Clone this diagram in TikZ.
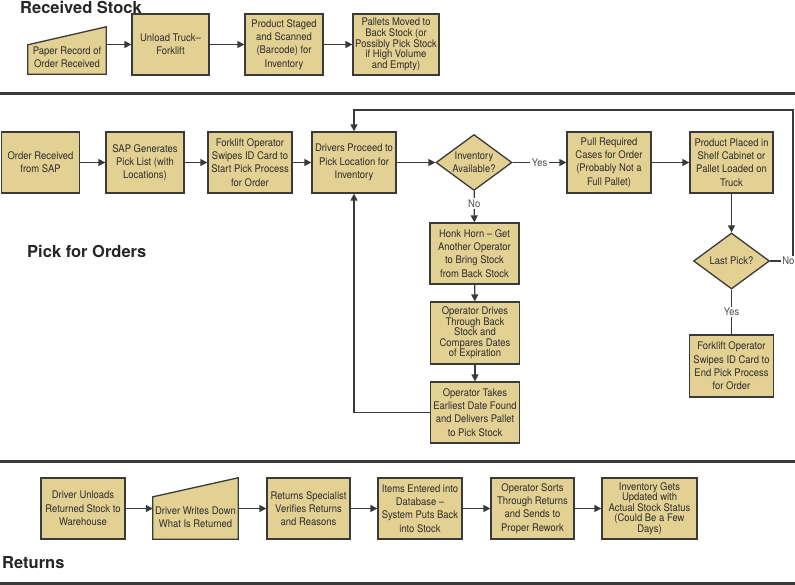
\documentclass[tikz,border=0pt]{standalone}
\usepackage{fontspec}
\setmainfont{TeX Gyre Heros}[FakeStretch=0.9]
\newfontfamily\headfont{TeX Gyre Heros}
\usepackage{tikz}
\usetikzlibrary{shapes, arrows, calc, positioning, arrows.meta, backgrounds}
\usetikzlibrary{shapes.geometric}
\definecolor{xTanBox}{RGB}{227,208,147}
\definecolor{xDarkLine}{RGB}{58,58,58}
\definecolor{xText}{RGB}{45,45,45}

\tikzset{
    boxtext/.style={font=\fontsize{10.5}{13.3}\selectfont, text=xText, align=center, inner sep=0pt},
    procbox/.style={boxtext, rectangle, draw=xDarkLine, fill=xTanBox, line width=1.3pt, minimum height=61pt},
    tightlines/.style={font=\fontsize{10.5}{10.6}\selectfont},
    inputbox/.style={boxtext, rectangle, minimum height=#1},
    decision/.style={boxtext, diamond, draw=xDarkLine, fill=xTanBox, line width=1.3pt, aspect=1.3, minimum width=76pt, minimum height=56pt},
    flow/.style={draw=xDarkLine, line width=1.3pt, -{Triangle[length=7pt,width=7pt]}},
    plainline/.style={draw=xDarkLine, line width=1.3pt},
    branch/.style={boxtext, fill=white, inner sep=1.5pt, text=xText!85},
    sectionrule/.style={draw=xDarkLine, line width=3pt},
    heading/.style={font=\headfont\bfseries\fontsize{16.5}{18}\selectfont, text=black!85, anchor=west, inner sep=0pt},
}

\begin{document}
\begin{tikzpicture}[x=1pt,y=-1pt]
    \useasboundingbox (0,0) rectangle (795,585);

    % section rules
    \draw[sectionrule] (0,94) -- (795,94);
    \draw[sectionrule] (0,461) -- (795,461);
    \draw[sectionrule] (0,583) -- (795,583);

    % Received Stock
    \node[heading] (recvtitle) at (20,7) {Received Stock};
    \node[inputbox=33pt, minimum width=78pt] (paper) at (67,57.5) {Paper Record of\\Order Received};
    \node[procbox, minimum width=77pt] (unload) at (170.5,44.5) {Unload Truck–\\Forklift};
    \node[procbox, minimum width=78pt] (staged) at (284,44.5) {Product Staged\\and Scanned\\(Barcode) for\\Inventory};
    \node[procbox, tightlines, minimum width=86pt] (pallets) at (396,44.5) {Pallets Moved to\\Back Stock (or\\Possibly Pick Stock\\if High Volume\\and Empty)};

    \draw[flow] (paper.east |- unload.west) -- (unload.west);
    \draw[flow] (unload) -- (staged);
    \draw[flow] (staged) -- (pallets);

    % Pick for Orders
    \node[heading] (picktitle) at (27,251) {Pick for Orders};
    \node[procbox, minimum width=78pt] (ordsap) at (40.5,162.5) {Order Received\\from SAP};
    \node[procbox, minimum width=78pt] (picklist) at (145,162.5) {SAP Generates\\Pick List (with\\Locations)};
    \node[procbox, minimum width=84pt] (swipestart) at (250,162.5) {Forklift Operator\\Swipes ID Card to\\Start Pick Process\\for Order};
    \node[procbox, minimum width=84pt] (proceed) at (354,162.5) {Drivers Proceed to\\Pick Location for\\Inventory};
    \node[decision] (invavail) at (474,162.5) {Inventory\\Available?};
    \node[procbox, minimum width=84pt] (pullcases) at (609,162.5) {Pull Required\\Cases for Order\\(Probably Not a\\Full Pallet)};
    \node[procbox, minimum width=83pt] (placed) at (731.5,162.5) {Product Placed in\\Shelf Cabinet or\\Pallet Loaded on\\Truck};
    \node[decision] (lastpick) at (731.5,261) {Last Pick?};
    \node[procbox, minimum width=84pt, minimum height=62pt] (swipeend) at (731.5,366) {Forklift Operator\\Swipes ID Card to\\End Pick Process\\for Order};
    \node[procbox, minimum width=89pt] (honk) at (474.5,253.5) {Honk Horn – Get\\Another Operator\\to Bring Stock\\from Back Stock};
    \node[procbox, tightlines, minimum width=89pt, minimum height=62pt] (drives) at (475,333) {Operator Drives\\Through Back\\Stock and\\Compares Dates\\of Expiration};
    \node[procbox, minimum width=89pt] (takes) at (475,412.5) {Operator Takes\\Earliest Date Found\\and Delivers Pallet\\to Pick Stock};
    \coordinate (loopcorner) at (793,110);

    \draw[flow] (ordsap) -- (picklist);
    \draw[flow] (picklist) -- (swipestart);
    \draw[flow] (swipestart) -- (proceed);
    \draw[flow] (proceed) -- (invavail);
    \draw[flow] (invavail) -- node[branch] {Yes} (pullcases);
    \draw[flow] (invavail) -- node[branch, pos=0.4] {No} (honk);
    \draw[flow] (honk) -- (drives);
    \draw[flow] (drives) -- (takes);
    \draw[flow] (takes.west) -| (proceed.south);
    \draw[flow] (pullcases) -- (placed);
    \draw[flow] (placed) -- (lastpick);
    \draw[plainline] (lastpick) -- node[branch] {Yes} (swipeend);
    \draw[flow] (lastpick.east) -| node[branch, pos=0.4] {No} (loopcorner) -| (proceed.north);

    % Returns
    \node[heading] (rettitle) at (2,563) {Returns};
    \node[procbox, minimum width=84pt] (unloads) at (83,508.5) {Driver Unloads\\Returned Stock to\\Warehouse};
    \node[inputbox=43pt, minimum width=85pt] (writes) at (195.5,517.5) {Driver Writes Down\\What Is Returned};
    \node[procbox, minimum width=83pt] (specialist) at (308.5,508.5) {Returns Specialist\\Verifies Returns\\and Reasons};
    \node[procbox, minimum width=84pt] (entered) at (420,508.5) {Items Entered into\\Database –\\System Puts Back\\into Stock};
    \node[procbox, minimum width=83pt] (sorts) at (532.5,508.5) {Operator Sorts\\Through Returns\\and Sends to\\Proper Rework};
    \node[procbox, tightlines, minimum width=95pt] (updated) at (649.5,508.5) {Inventory Gets\\Updated with\\Actual Stock Status\\(Could Be a Few\\Days)};

    \draw[flow] (unloads.east) -- (unloads.east -| writes.west);
    \draw[flow] (writes.east |- specialist.west) -- (specialist.west);
    \draw[flow] (specialist) -- (entered);
    \draw[flow] (entered) -- (sorts);
    \draw[flow] (sorts) -- (updated);

    % slanted manual input shapes
    \begin{scope}[on background layer]
        \filldraw[fill=xTanBox, draw=xDarkLine, line width=1.3pt]
            (paper.south west) -- (paper.south east) -- ($(paper.north east)+(0,-14)$) -- ($(paper.north west)+(0,4)$) -- cycle;
        \filldraw[fill=xTanBox, draw=xDarkLine, line width=1.3pt]
            (writes.south west) -- (writes.south east) -- ($(writes.north east)+(0,-18)$) -- ($(writes.north west)+(0,1)$) -- cycle;
    \end{scope}
\end{tikzpicture}
\end{document}
